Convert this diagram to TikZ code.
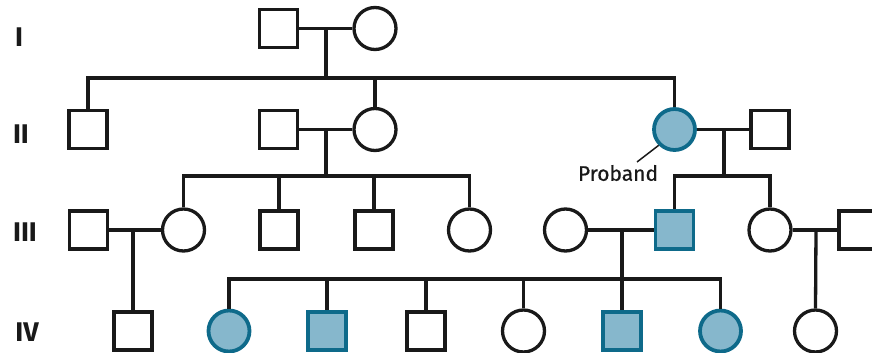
\documentclass[tikz,border=0pt]{standalone}
\usepackage{fontspec}
\setmainfont{Fira Sans}
\newfontfamily\probfont[FakeBold=0.6,AutoFakeBold=0.6]{Fira Sans}
\definecolor{affill}{RGB}{134,183,204}
\definecolor{afline}{RGB}{14,106,138}
\definecolor{ink}{RGB}{25,25,25}
\begin{document}
\begin{tikzpicture}[x=1pt,y=-1pt,
  male/.style={draw=ink, line width=3.3pt, fill=white, rectangle, minimum size=38pt, inner sep=0pt},
  female/.style={draw=ink, line width=3.3pt, fill=white, circle, minimum size=42pt, inner sep=0pt},
  amale/.style={male, draw=afline, fill=affill, line width=3.8pt},
  afemale/.style={female, draw=afline, fill=affill, line width=3.8pt, minimum size=41pt},
  genlabel/.style={font=\fontsize{27}{27}\selectfont\bfseries, text=ink, inner sep=0pt},
  link/.style={draw=ink, line width=3.3pt}]
\clip (0,0) rectangle (872,353);
\fill[white] (0,0) rectangle (872,353);

% generation labels
\node[genlabel] (LI) at (19,37) {I};
\node[genlabel] (LII) at (21,134) {II};
\node[genlabel] (LIII) at (25,232) {III};
\node[genlabel] (LIV) at (27,332) {IV};

% connector anchor points
\coordinate (m1) at (326,28.5);
\coordinate (s1) at (326,78);
\coordinate (m2) at (326,129.5);
\coordinate (s2) at (326,176);
\coordinate (m3) at (724,129.5);
\coordinate (s3) at (724,176);
\coordinate (m4) at (133,230);
\coordinate (m5) at (622,230);
\coordinate (s5) at (622,279);
\coordinate (m6) at (816,230);

% Generation I
\node[male] (I1) at (278.5,28.5) {};
\node[female] (I2) at (375,28.5) {};
% Generation II
\node[male] (II1) at (88,129.5) {};
\node[male] (II2) at (278.5,129.5) {};
\node[female] (II3) at (375,129.5) {};
\node[afemale] (II4) at (674.5,129.5) {};
\node[male] (II5) at (770,129.5) {};
% Generation III
\node[male] (III1) at (88.5,230) {};
\node[female] (III2) at (183.5,230) {};
\node[male] (III3) at (279,230) {};
\node[male] (III4) at (374,230) {};
\node[female] (III5) at (469.5,230) {};
\node[female] (III6) at (565.5,230) {};
\node[amale] (III7) at (674.5,230) {};
\node[female] (III8) at (770,230) {};
\node[male] (III9) at (858,230) {};
% Generation IV
\node[male] (IV1) at (133,331) {};
\node[afemale] (IV2) at (229,331) {};
\node[amale] (IV3) at (327,331) {};
\node[male] (IV4) at (426,331) {};
\node[female] (IV5) at (523.5,331) {};
\node[amale] (IV6) at (622,331) {};
\node[afemale] (IV7) at (720.5,331) {};
\node[female] (IV8) at (815.5,331) {};

% marriages
\draw[link] (I1.east) -- (I2.west);
\draw[link] (II2.east) -- (II3.west);
\draw[link] (II4.east) -- (II5.west);
\draw[link] (III1.east) -- (III2.west);
\draw[link] (III6.east) -- (III7.west);
\draw[link] (III8.east) -- (III9.west);

% descent
\draw[link] (m1) -- (s1);
\draw[link] (m2) -- (s2);
\draw[link] (m3) -- (s3);
\draw[link] (m4) -- (IV1.north);
\draw[link] (m5) -- (s5);
\draw[link] (m6) -- (IV8.north);

% sibship I
\draw[link] (II1.north) -- (II1.north |- s1) -- (II4.north |- s1) -- (II4.north);
\draw[link] (II3.north |- s1) -- (II3.north);
% sibship (II2 x II3)
\draw[link] (III2.north) -- (III2.north |- s2) -- (III5.north |- s2) -- (III5.north);
\draw[link] (III3.north |- s2) -- (III3.north);
\draw[link] (III4.north |- s2) -- (III4.north);
% sibship (II4 x II5)
\draw[link] (III7.north) -- (III7.north |- s3) -- (III8.north |- s3) -- (III8.north);
% sibship (III6 x III7)
\draw[link] (IV2.north) -- (IV2.north |- s5) -- (IV7.north |- s5) -- (IV7.north);
\draw[link] (IV3.north |- s5) -- (IV3.north);
\draw[link] (IV4.north |- s5) -- (IV4.north);
\draw[link] (IV5.north |- s5) -- (IV5.north);
\draw[link] (IV6.north |- s5) -- (IV6.north);

% proband label
\node[font=\probfont\fontsize{21}{21}\selectfont, text=ink, inner sep=0pt] (prob) at (618,173) {Proband};
\coordinate (pend) at (637,162);
\draw[ink, line width=1.5pt] (II4.225) -- (pend);
\end{tikzpicture}
\end{document}
